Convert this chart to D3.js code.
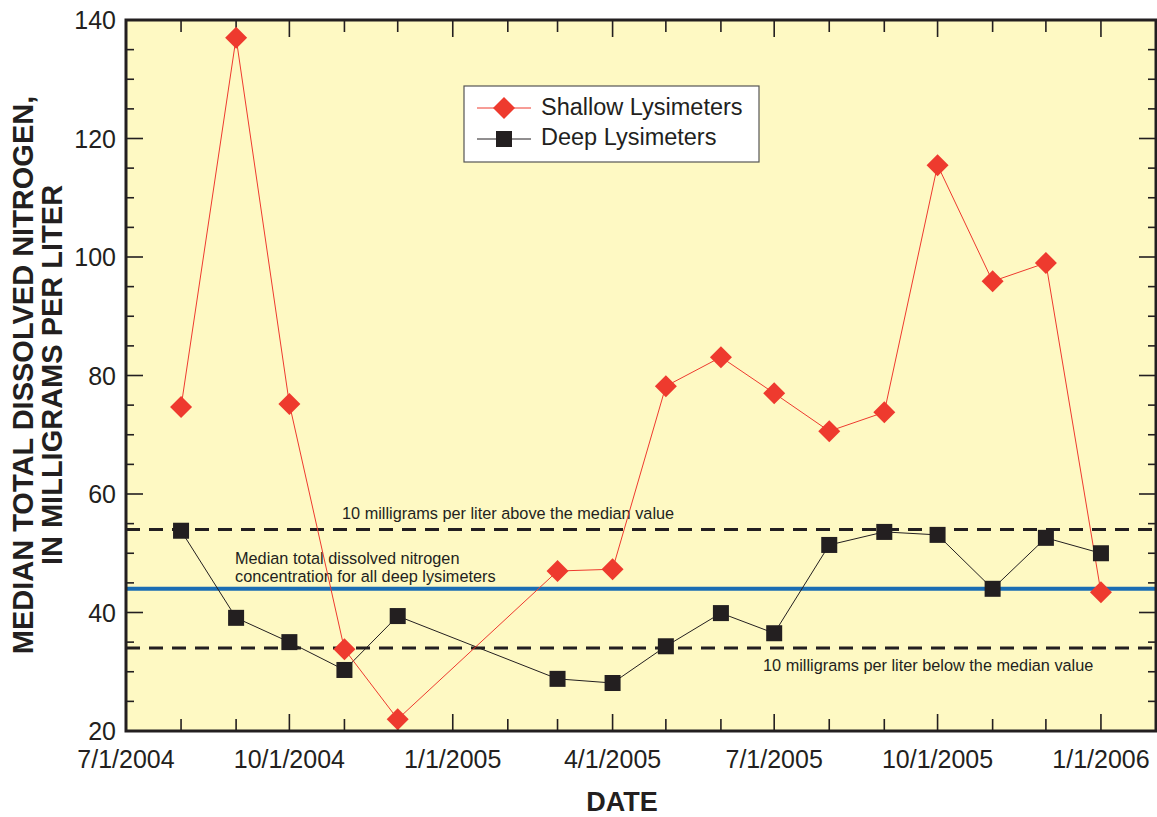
<!DOCTYPE html>
<html>
<head>
<meta charset="utf-8">
<script src="https://cdn.jsdelivr.net/npm/d3@7"></script>
<style>
  body { margin: 0; background: #fff; }
  svg text { font-family: "Liberation Sans", Arial, Helvetica, sans-serif; fill: #231f20; }
</style>
</head>
<body>
<div id="chart"></div>
<script>
(function(d3){

  // sample dates (first of month)
  var dates = ['2004-08-01', '2004-09-01', '2004-10-01', '2004-11-01', '2004-12-01',
               '2005-03-01', '2005-04-01', '2005-05-01', '2005-06-01', '2005-07-01',
               '2005-08-01', '2005-09-01', '2005-10-01', '2005-11-01', '2005-12-01', '2006-01-01'];
  var shallow = [74.7, 137, 75.2, 33.8, 22.0, 47.0, 47.3, 78.2, 83.1, 77.0, 70.6, 73.8, 115.5, 95.9, 99.0, 43.4];
  var deep    = [53.8, 39.1, 35.0, 30.3, 39.4, 28.8, 28.1, 34.3, 39.9, 36.5, 51.4, 53.6, 53.1, 44.0, 52.6, 50.0];
  var median = 44,
      band = [54, 34];
  var yTicks = [20, 40, 60, 80, 100, 120, 140];
  var xTickLabels = ['7/1/2004', '10/1/2004', '1/1/2005', '4/1/2005', '7/1/2005', '10/1/2005', '1/1/2006'];

  var W = 1157, H = 817,
      m = {left: 126, right: 1156, top: 20, bottom: 731};

  var parse = d3.timeParse('%Y-%m-%d'),
      parseLabel = d3.timeParse('%m/%d/%Y');

  var x = d3.scaleTime()
      .domain([parse('2004-07-01'), parse('2006-02-01')])
      .range([m.left, m.right]);
  var y = d3.scaleLinear().domain([20, 140]).range([m.bottom, m.top]);

  var svg = d3.select('#chart').append('svg')
      .attr('width', W)
      .attr('height', H);

  // plot background
  svg.append('rect')
      .attr('x', m.left).attr('y', m.top)
      .attr('width', m.right - m.left).attr('height', m.bottom - m.top)
      .attr('fill', '#fef9c3');

  var ink = '#231f20';

  // ticks, all four sides, pointing inward
  var months = d3.timeMonth.range(x.domain()[0], d3.timeMonth.offset(x.domain()[1], 1));
  months.forEach(function(d) {
    var major = (d.getMonth() % 3 === 0);
    var len = major ? 17 : 12;
    svg.append('line').attr('x1', x(d)).attr('x2', x(d))
        .attr('y1', m.bottom).attr('y2', m.bottom - len)
        .attr('stroke', ink).attr('stroke-width', 1.6);
    svg.append('line').attr('x1', x(d)).attr('x2', x(d))
        .attr('y1', m.top).attr('y2', m.top + len)
        .attr('stroke', ink).attr('stroke-width', 1.6);
  });
  d3.range(20, 141, 5).forEach(function(v) {
    var major = (v % 20 === 0);
    var len = major ? 17 : 8;
    svg.append('line').attr('x1', m.left).attr('x2', m.left + len)
        .attr('y1', y(v)).attr('y2', y(v))
        .attr('stroke', ink).attr('stroke-width', 1.6);
    svg.append('line').attr('x1', m.right).attr('x2', m.right - len)
        .attr('y1', y(v)).attr('y2', y(v))
        .attr('stroke', ink).attr('stroke-width', 1.6);
  });

  // tick labels
  svg.selectAll('.ylab').data(yTicks).enter().append('text')
      .attr('x', m.left - 10)
      .attr('y', function(d) { return y(d); })
      .attr('dy', '0.36em')
      .attr('text-anchor', 'end')
      .attr('font-size', 25)
      .text(function(d) { return d; });

  svg.selectAll('.xlab').data(xTickLabels).enter().append('text')
      .attr('x', function(d) { return x(parseLabel(d)); })
      .attr('y', 768)
      .attr('text-anchor', 'middle')
      .attr('font-size', 25)
      .text(function(d) { return d; });

  // reference lines
  band.forEach(function(v) {
    svg.append('line')
        .attr('x1', m.left).attr('x2', m.right)
        .attr('y1', y(v)).attr('y2', y(v))
        .attr('stroke', ink).attr('stroke-width', 3)
        .attr('stroke-dasharray', '14,9');
  });
  svg.append('line')
      .attr('x1', m.left).attr('x2', m.right)
      .attr('y1', y(median)).attr('y2', y(median))
      .attr('stroke', '#1a6db3').attr('stroke-width', 4);

  // annotations
  var note = svg.append('g').attr('font-size', 16.3);
  note.append('text').attr('x', 342).attr('y', 519)
      .text('10 milligrams per liter above the median value');
  note.append('text').attr('x', 235).attr('y', 564)
      .text('Median total dissolved nitrogen');
  note.append('text').attr('x', 235).attr('y', 582)
      .text('concentration for all deep lysimeters');
  note.append('text').attr('x', 763).attr('y', 671)
      .text('10 milligrams per liter below the median value');

  // series
  var shallowPts = dates.map(function(d, i) { return {date: parse(d), value: shallow[i]}; });
  var deepPts = dates.map(function(d, i) { return {date: parse(d), value: deep[i]}; });

  var line = d3.line()
      .x(function(d) { return x(d.date); })
      .y(function(d) { return y(d.value); });

  var red = '#ee3a2e';

  svg.append('path').datum(deepPts)
      .attr('d', line).attr('fill', 'none')
      .attr('stroke', ink).attr('stroke-width', 1);
  svg.append('path').datum(shallowPts)
      .attr('d', line).attr('fill', 'none')
      .attr('stroke', red).attr('stroke-width', 1);

  svg.selectAll('.sq').data(deepPts).enter().append('rect')
      .attr('x', function(d) { return x(d.date) - 8; })
      .attr('y', function(d) { return y(d.value) - 8; })
      .attr('width', 16).attr('height', 16)
      .attr('fill', ink);

  var diamond = d3.symbol().type(d3.symbolSquare).size(242);
  svg.selectAll('.dm').data(shallowPts).enter().append('path')
      .attr('d', diamond)
      .attr('transform', function(d) {
        return 'translate(' + x(d.date) + ',' + y(d.value) + ') rotate(45)';
      })
      .attr('fill', red);

  // frame
  svg.append('rect')
      .attr('x', m.left).attr('y', m.top)
      .attr('width', m.right - m.left).attr('height', m.bottom - m.top)
      .attr('fill', 'none').attr('stroke', ink).attr('stroke-width', 3);

  // legend
  var lg = svg.append('g');
  lg.append('rect').attr('x', 464).attr('y', 86).attr('width', 295).attr('height', 76)
      .attr('fill', '#fff').attr('stroke', '#555').attr('stroke-width', 1.2);
  lg.append('line').attr('x1', 477).attr('x2', 531).attr('y1', 108).attr('y2', 108)
      .attr('stroke', red).attr('stroke-width', 1);
  lg.append('path').attr('d', diamond).attr('transform', 'translate(504,108) rotate(45)')
      .attr('fill', red);
  lg.append('line').attr('x1', 477).attr('x2', 531).attr('y1', 139).attr('y2', 139)
      .attr('stroke', ink).attr('stroke-width', 1);
  lg.append('rect').attr('x', 496).attr('y', 131).attr('width', 16).attr('height', 16)
      .attr('fill', ink);
  lg.append('text').attr('x', 541).attr('y', 115)
      .attr('font-size', 23.5).text('Shallow Lysimeters');
  lg.append('text').attr('x', 541).attr('y', 145)
      .attr('font-size', 23.5).text('Deep Lysimeters');

  // axis titles
  svg.append('text').attr('x', 622).attr('y', 811)
      .attr('text-anchor', 'middle').attr('font-size', 27).attr('font-weight', 'bold')
      .text('DATE');
  var yt = svg.append('text')
      .attr('transform', 'translate(0,375) rotate(-90)')
      .attr('text-anchor', 'middle').attr('font-size', 29).attr('font-weight', 'bold');
  yt.append('tspan').attr('x', 0).attr('y', 33).text('MEDIAN TOTAL DISSOLVED NITROGEN,');
  yt.append('tspan').attr('x', 0).attr('y', 62).text('IN MILLIGRAMS PER LITER');

})(d3);
</script>
</body>
</html>
